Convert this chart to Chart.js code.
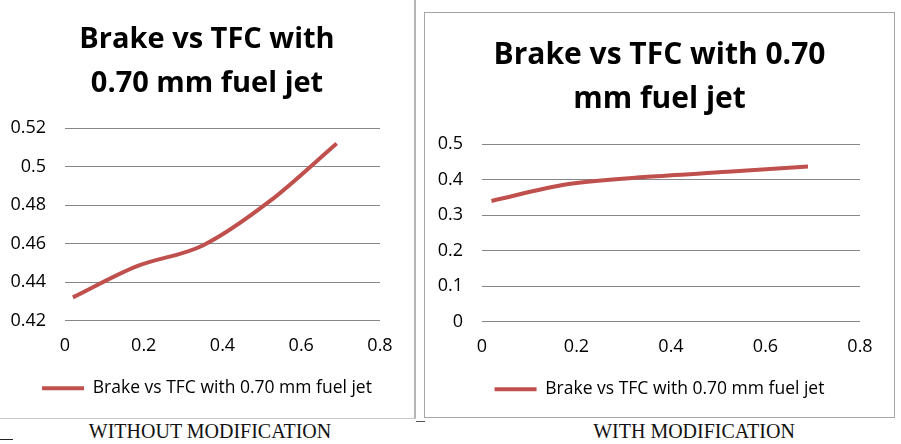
<!DOCTYPE html>
<html>
<head>
<meta charset="utf-8">
<script src="https://cdn.jsdelivr.net/npm/chart.js@4.4.1/dist/chart.umd.min.js"></script>
<style>
  html, body { margin:0; padding:0; background:#fff; width:901px; height:444px; overflow:hidden; position:relative; }
  #leftBox { position:absolute; left:0; top:0; width:414px; height:418px; }
  #rightBox { position:absolute; left:424px; top:12px; width:469px; height:404px; border:1px solid #a6a6a6; }
  .vline { position:absolute; left:414px; top:0; width:2px; height:419px; background:#b4b4b4; }
  .hline { position:absolute; left:0; top:418px; width:416px; height:1px; background:#c8c8c8; }
  .mark1 { position:absolute; left:0; top:439px; width:13px; height:1px; background:#222; }
  .mark2 { position:absolute; left:416px; top:421px; width:9px; height:1px; background:#555; }
  .cap { position:absolute; top:420px; font-family:"Liberation Serif", serif; font-size:20px; color:#111; white-space:nowrap; transform:translateX(-50%); }
</style>
</head>
<body>
<div id="leftBox"><canvas id="c1" width="414" height="418"></canvas></div>
<div class="vline"></div>
<div class="hline"></div>
<div class="mark1"></div>
<div class="mark2"></div>
<div id="rightBox"><canvas id="c2" width="469" height="404"></canvas></div>
<div class="cap" style="left:210px;">WITHOUT MODIFICATION</div>
<div class="cap" style="left:694px;">WITH MODIFICATION</div>
<script>
// ---- data ----
const seriesName = "Brake vs TFC with 0.70 mm fuel jet";
const leftTitle = ["Brake vs TFC with", "0.70 mm fuel jet"];
const rightTitle = ["Brake vs TFC with 0.70", "mm fuel jet"];
const leftX = [0.02, 0.18, 0.35, 0.52, 0.69];
const leftY = [0.432, 0.448, 0.459, 0.482, 0.512];
const rightX = [0.02, 0.18, 0.35, 0.52, 0.69];
const rightY = [0.340, 0.387, 0.408, 0.422, 0.437];
const xTicks = [0, 0.2, 0.4, 0.6, 0.8];
const leftYTicks = [0.42, 0.44, 0.46, 0.48, 0.5, 0.52];
const rightYTicks = [0, 0.1, 0.2, 0.3, 0.4, 0.5];

const RED = '#C0504D';
const FONT = "'Open Sans', 'Noto Sans', sans-serif";

function pts(xs, ys) { return xs.map((x, i) => ({x: x, y: ys[i]})); }

function makeChart(id, xs, ys, yTicks, title, opt) {
  return new Chart(document.getElementById(id), {
    type: 'scatter',
    data: {
      datasets: [{
        label: seriesName,
        data: pts(xs, ys),
        showLine: true,
        borderColor: RED,
        backgroundColor: RED,
        borderWidth: 4,
        pointRadius: 0,
        pointHoverRadius: 0,
        tension: 0.4,
        cubicInterpolationMode: 'monotone',
        pointStyle: 'line'
      }]
    },
    options: {
      responsive: false,
      animation: false,
      layout: { padding: { top: 0, bottom: opt.padBottom, left: 0, right: 0 } },
      plugins: {
        title: {
          display: true,
          text: title,
          color: '#000',
          font: { family: FONT, size: opt.titleSize, weight: 'bold', lineHeight: opt.titleLH },
          padding: { top: opt.titleTop, bottom: opt.titleBottom }
        },
        legend: {
          display: true,
          position: 'bottom',
          labels: {
            color: '#000',
            font: { family: FONT, size: 17.5 },
            usePointStyle: true,
            pointStyle: 'line',
            boxWidth: 42,
            boxHeight: 4,
            pointStyleWidth: 42,
            padding: 9
          }
        },
        tooltip: { enabled: false }
      },
      scales: {
        x: {
          type: 'linear',
          min: xTicks[0],
          max: xTicks[xTicks.length - 1],
          afterBuildTicks: (s) => { s.ticks = xTicks.map(v => ({value: v})); },
          grid: { display: false, drawTicks: false },
          border: { display: false },
          ticks: { color: '#000', font: { family: FONT, size: 18 }, padding: 15, maxRotation: 0, callback: v => String(v) },
          afterFit: (s) => { s.height = opt.xHeight; }
        },
        y: {
          type: 'linear',
          min: yTicks[0],
          max: yTicks[yTicks.length - 1],
          afterBuildTicks: (s) => { s.ticks = yTicks.map(v => ({value: v})); },
          grid: { color: '#878787', lineWidth: 1, drawTicks: false },
          border: { display: false },
          ticks: { color: '#000', font: { family: FONT, size: 18 }, padding: 19, callback: v => String(v) },
          afterFit: (s) => { s.width = opt.yWidth; }
        },
        ySpacer: {
          type: 'linear',
          position: 'right',
          display: true,
          grid: { display: false, drawTicks: false },
          border: { display: false },
          ticks: { display: false },
          afterFit: (s) => { s.width = opt.padRight; }
        }
      }
    }
  });
}

makeChart('c1', leftX, leftY, leftYTicks, leftTitle,
  { titleSize: 29, titleLH: 1.5, titleTop: 18, titleBottom: 23, padBottom: 11, padRight: 34, xHeight: 50, yWidth: 65 });
makeChart('c2', rightX, rightY, rightYTicks, rightTitle,
  { titleSize: 30, titleLH: 1.47, titleTop: 20, titleBottom: 23, padBottom: 9, padRight: 34, xHeight: 50, yWidth: 57 });
</script>
</body>
</html>
